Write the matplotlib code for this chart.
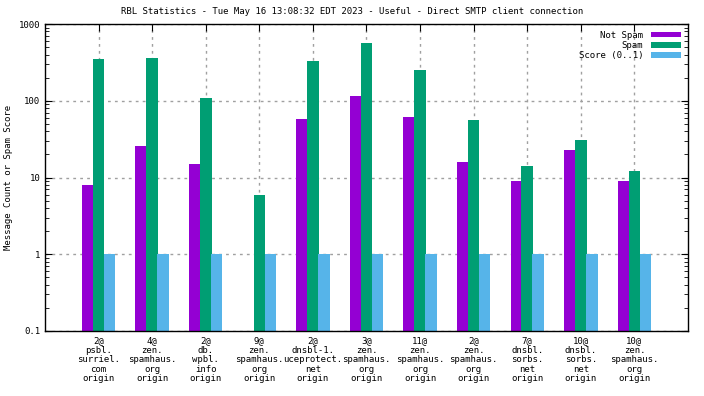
import numpy as np
import matplotlib
matplotlib.use("Agg")
import matplotlib.pyplot as plt
from matplotlib.ticker import FixedLocator, FixedFormatter, LogLocator, NullFormatter

# data
categories = ["2@\npsbl.\nsurriel.\ncom\norigin",
              "4@\nzen.\nspamhaus.\norg\norigin",
              "2@\ndb.\nwpbl.\ninfo\norigin",
              "9@\nzen.\nspamhaus.\norg\norigin",
              "2@\ndnsbl-1.\nuceprotect.\nnet\norigin",
              "3@\nzen.\nspamhaus.\norg\norigin",
              "11@\nzen.\nspamhaus.\norg\norigin",
              "2@\nzen.\nspamhaus.\norg\norigin",
              "7@\ndnsbl.\nsorbs.\nnet\norigin",
              "10@\ndnsbl.\nsorbs.\nnet\norigin",
              "10@\nzen.\nspamhaus.\norg\norigin"]
not_spam = [8, 25.5, 15, 0, 57, 114, 61, 15.8, 9, 22.6, 9]
spam = [348, 358, 108, 6, 326, 560, 250, 56, 14, 30.6, 12]
score = [1, 1, 1, 1, 1, 1, 1, 1, 1, 1, 1]

plt.rcParams['font.family'] = ['DejaVu Sans Mono']
fs = 6.5
fig = plt.figure(figsize=(7.04, 3.96), dpi=100)
ax = fig.add_axes([45/704, 65/396, 643/704, 307/396])

x = np.arange(len(categories))
w = 0.215
off = 0.205
ax.bar(x - off, np.where(np.array(not_spam) > 0, not_spam, np.nan), w, color="#9400d3", label="Not Spam")
ax.bar(x, spam, w, color="#009e73", label="Spam")
ax.bar(x + off, score, w, color="#56b4e9", label="Score (0..1)")

ax.set_yscale("log")
ax.set_ylim(0.1, 1000)
ax.set_xlim(-1, 11)
ax.yaxis.set_major_locator(FixedLocator([0.1, 1, 10, 100, 1000]))
ax.yaxis.set_major_formatter(FixedFormatter(["0.1", "1", "10", "100", "1000"]))
ax.yaxis.set_minor_locator(LogLocator(base=10, subs=np.arange(2, 10)))
ax.yaxis.set_minor_formatter(NullFormatter())
ax.set_xticks(x)
ax.set_xticklabels(categories, fontsize=fs, linespacing=1.05)

ax.tick_params(axis="both", which="both", direction="in", top=True, right=True, labelsize=fs)
ax.tick_params(axis="y", which="major", length=5)
ax.tick_params(axis="y", which="minor", length=3)
ax.tick_params(axis="x", which="major", length=5, pad=4)

ax.grid(True, which="major", color="#a0a0a0", linestyle=(0, (2, 3)), linewidth=1)
ax.set_axisbelow(True)
for s in ax.spines.values():
    s.set_linewidth(1)

ax.set_ylabel("Message Count or Spam Score", fontsize=fs)
ax.yaxis.set_label_coords(-0.05, 0.5)
fig.text(0.5, 1 - 12/396, "RBL Statistics - Tue May 16 13:08:32 EDT 2023 - Useful - Direct SMTP client connection",
         ha="center", va="center", fontsize=fs)

ax.legend(loc="upper right", frameon=False, markerfirst=False, fontsize=fs,
          handlelength=3.4, handleheight=0.6, labelspacing=0.15, borderaxespad=0.35, handletextpad=0.8)

fig.savefig("out.png", dpi=100)
